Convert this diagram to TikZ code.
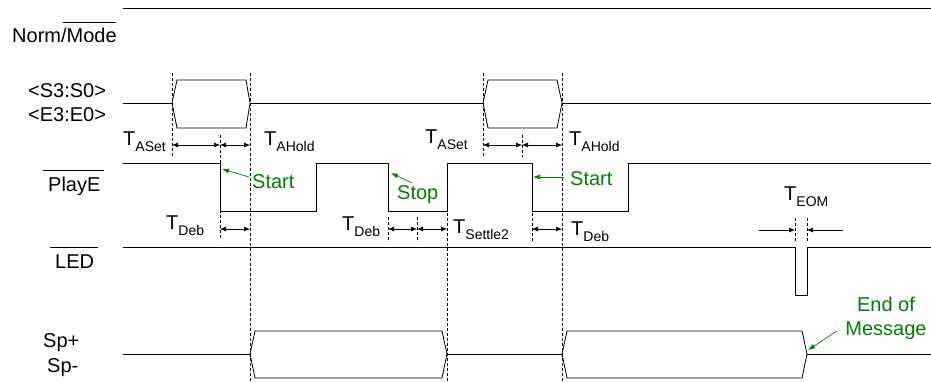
\documentclass[tikz,border=0pt]{standalone}
\usepackage{fontspec}
\setmainfont{Liberation Sans}
\usetikzlibrary{arrows.meta}
\definecolor{grn}{RGB}{0,128,0}
\newcommand{\Tsub}[1]{T\raisebox{-6.5pt}{\fontsize{14}{14}\selectfont #1}}
\begin{document}
\begin{tikzpicture}[x=1pt,y=-1pt,
  sig/.style={line width=0.8pt, line join=miter},
  dsh/.style={dash pattern=on 3pt off 2pt, line width=0.6pt},
  dim/.style={{Latex[length=6pt,width=5pt]}-{Latex[length=6pt,width=5pt]}, line width=0.6pt},
  tip/.style={-{Latex[length=6pt,width=5pt]}, line width=0.6pt},
  lbl/.style={font=\fontsize{20}{22}\selectfont, inner sep=0pt, anchor=base west},
  glbl/.style={lbl, text=grn},
  garr/.style={-{Latex[length=7pt,width=5pt]}, draw=grn, line width=0.7pt}]
\useasboundingbox (0,0) rectangle (931,381);

% signal names
\node[lbl] (norm) at (12,42) {Norm/Mode};
\draw[line width=0.7pt] (63,22) -- (116,22);
\node[lbl] (s3) at (28,97) {<S3:S0>};
\node[lbl] (e3) at (28,121) {<E3:E0>};
\node[lbl] (playe) at (48,191) {PlayE};
\draw[line width=0.7pt] (43,170) -- (104,170);
\node[lbl] (led) at (55,268) {LED};
\draw[line width=0.7pt] (50,247) -- (98,247);
\node[lbl] (spp) at (43,347) {Sp+};
\node[lbl] (spm) at (47,372) {Sp-};

% Norm/Mode
\draw[sig] (123,8) -- (931,8);

% address bus
\draw[sig] (123,103) -- (172,103);
\draw[sig] (172,103) -- (177,80) -- (246,80) -- (250,103) -- (246,128) -- (177,128) -- cycle;
\draw[sig] (250,103) -- (483,103);
\draw[sig] (483,103) -- (488,80) -- (557,80) -- (562,103) -- (557,128) -- (488,128) -- cycle;
\draw[sig] (562,103) -- (931,103);

% PlayE
\draw[sig] (123,163) -- (220,163) -- (220,211) -- (316,211) -- (316,163) -- (388,163) -- (388,211)
  -- (447,211) -- (447,163) -- (532,163) -- (532,211) -- (628,211) -- (628,163) -- (931,163);

% LED
\draw[sig] (123,247) -- (795,247) -- (795,295) -- (807,295) -- (807,247) -- (931,247);

% speaker bus
\draw[sig] (123,354) -- (250,354);
\draw[sig] (250,354) -- (255,331) -- (442,331) -- (447,354) -- (442,378) -- (255,378) -- cycle;
\draw[sig] (447,354) -- (562,354);
\draw[sig] (562,354) -- (567,331) -- (802,331) -- (807,354) -- (802,378) -- (567,378) -- cycle;
\draw[sig] (807,354) -- (931,354);

% dashed guides
\coordinate (a1) at (172,145); \coordinate (a2) at (220,145); \coordinate (a3) at (250,145);
\coordinate (b1) at (483,145); \coordinate (b2) at (522,145); \coordinate (b3) at (562,145);
\coordinate (d1) at (220,229); \coordinate (d2) at (250,229);
\coordinate (d3) at (388,229); \coordinate (d4) at (417,229); \coordinate (d5) at (447,229);
\coordinate (d6) at (532,229); \coordinate (d7) at (562,229);
\coordinate (e1) at (795,230); \coordinate (e2) at (807,230);
\coordinate (e0) at (759,230); \coordinate (e3) at (843,230);

\draw[dsh] (172,73) -- (172,157);
\draw[dsh] (250,73) -- (250,381);
\draw[dsh] (220,135) -- (220,240);
\draw[dsh] (483,73) -- (483,157);
\draw[dsh] (522,135) -- (522,157);
\draw[dsh] (562,73) -- (562,381);
\draw[dsh] (388,217) -- (388,242);
\draw[dsh] (417,217) -- (417,242);
\draw[dsh] (447,213) -- (447,381);
\draw[dsh] (532,213) -- (532,242);
\draw[dsh] (795,218) -- (795,242);
\draw[dsh] (807,218) -- (807,242);

% dimension arrows
\draw[dim] (a1) -- (a2); \draw[dim] (a2) -- (a3);
\draw[dim] (b1) -- (b2); \draw[dim] (b2) -- (b3);
\draw[dim] (d1) -- (d2);
\draw[dim] (d3) -- (d4); \draw[dim] (d4) -- (d5);
\draw[dim] (d6) -- (d7);
\draw[tip] (e0) -- (e1);
\draw[tip] (e3) -- (e2);

% timing labels
\node[lbl] (tas1) at (123,145) {\Tsub{ASet}};
\node[lbl] (tah1) at (264,145) {\Tsub{AHold}};
\node[lbl] (tas2) at (425,143) {\Tsub{ASet}};
\node[lbl] (tah2) at (569,145) {\Tsub{AHold}};
\node[lbl] (tdb1) at (166,229) {\Tsub{Deb}};
\node[lbl] (tdb2) at (342,230) {\Tsub{Deb}};
\node[lbl] (tst) at (453,233) {\Tsub{Settle2}};
\node[lbl] (tdb3) at (571,235) {\Tsub{Deb}};
\node[lbl] (teom) at (784,200) {\Tsub{EOM}};

% green annotations
\node[glbl] (start1) at (252,188) {Start};
\coordinate (p1) at (222,169);
\draw[garr] (start1.west |- 0,177) ++(-3,0) -- (p1);
\node[glbl] (stop) at (397,199) {Stop};
\coordinate (p2) at (391,173);
\draw[garr] (412,183) -- (p2);
\node[glbl] (start2) at (570,185) {Start};
\coordinate (p3) at (533,177);
\draw[garr] (564,177) -- (p3);
\node[font=\fontsize{20}{24}\selectfont, text=grn, align=center, inner sep=0pt] (eom) at (886,318) {End of\\Message};
\coordinate (p4) at (808,350);
\draw[garr] (837,331) -- (p4);
\end{tikzpicture}
\end{document}
